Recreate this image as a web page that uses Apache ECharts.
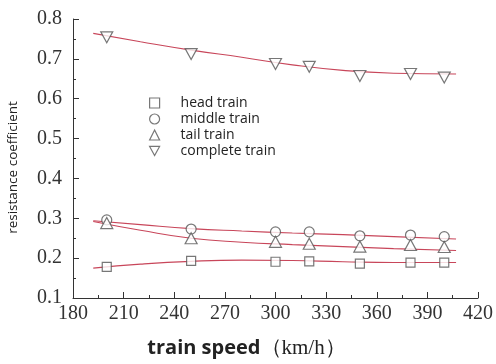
<!DOCTYPE html>
<html><head><meta charset="utf-8">
<script src="https://cdn.jsdelivr.net/npm/echarts@6/dist/echarts.min.js"></script>
<style>html,body{margin:0;padding:0;background:#fff}#c{width:496px;height:364px}</style>
</head><body><div id="c"></div>
<script>
const speeds = [200, 250, 300, 320, 350, 380, 400];
const headTrain = [0.178, 0.193, 0.191, 0.192, 0.186, 0.189, 0.189];
const middleTrain = [0.296, 0.273, 0.266, 0.266, 0.256, 0.258, 0.254];
const tailTrain = [0.288, 0.250, 0.241, 0.236, 0.229, 0.233, 0.228];
const completeTrain = [0.754, 0.712, 0.687, 0.680, 0.657, 0.662, 0.653];

const fitSpeeds = [192, 220, 250, 280, 310, 340, 370, 407];
const headFit = [0.175, 0.185, 0.192, 0.195, 0.194, 0.191, 0.189, 0.189];
const middleFit = [0.294, 0.284, 0.274, 0.268, 0.263, 0.259, 0.254, 0.248];
const tailFit = [0.292, 0.270, 0.250, 0.240, 0.234, 0.229, 0.224, 0.219];
const completeFit = [0.764, 0.743, 0.722, 0.704, 0.685, 0.671, 0.664, 0.662];

const names = ['head train', 'middle train', 'tail train', 'complete train'];
const xTicks = [180, 420, 30];
const yTicks = [0.1, 0.8, 0.1];

const pair = (xs, ys) => xs.map((x, i) => [x, ys[i]]);
const mk = { color: '#fff', borderColor: '#555', borderWidth: 1.2 };
const fitColor = '#c8465a';

function scatter(name, vals, symbol, size, rot) {
  return { name, type: 'scatter', data: pair(speeds, vals), symbol, symbolSize: size,
    symbolRotate: rot || 0, itemStyle: mk, z: 3 };
}
function fit(vals) {
  return { type: 'line', data: pair(fitSpeeds, vals), smooth: true, showSymbol: false,
    symbol: 'none', lineStyle: { color: fitColor, width: 1.1 }, z: 2, silent: true };
}

const chart = echarts.init(document.getElementById('c'));
chart.setOption({
  animation: false,
  grid: { left: 73, right: 18, top: 19, bottom: 66, containLabel: false, outerBoundsMode: 'none' },
  legend: {
    orient: 'vertical', left: 144, top: 91, itemGap: 2, itemWidth: 10, itemHeight: 10,
    itemStyle: { borderWidth: 1.2 },
    textStyle: { fontFamily: 'Open Sans', fontSize: 14, lineHeight: 14, color: '#222', padding: [0, 0, 0, 16] },
    data: [
      { name: names[0], icon: 'rect' },
      { name: names[1], icon: 'circle' },
      { name: names[2], icon: 'triangle' },
      { name: names[3], icon: 'path://M0,0 L12,0 L6,11 Z' }
    ]
  },
  xAxis: {
    type: 'value', min: xTicks[0], max: xTicks[1], interval: xTicks[2],
    axisLine: { lineStyle: { color: '#333', width: 1 } },
    axisTick: { inside: true, length: 6, lineStyle: { color: '#333' } },
    minorTick: { show: true, splitNumber: 2, length: 3, lineStyle: { color: '#333' } },
    splitLine: { show: false },
    axisLabel: { fontFamily: 'Liberation Serif', fontSize: 20, color: '#333', margin: 6 },
    name: '{a|train speed}{b|（km/h）}', nameLocation: 'middle', nameGap: 40,
    nameTextStyle: { padding: [0, 58, 0, 0], rich: {
      a: { fontFamily: 'Open Sans', fontWeight: 'bold', fontSize: 20, color: '#222' },
      b: { fontFamily: 'Liberation Serif', fontSize: 21, color: '#222' } } }
  },
  yAxis: {
    type: 'value', min: yTicks[0], max: yTicks[1], interval: yTicks[2],
    axisLine: { show: true, lineStyle: { color: '#333', width: 1 } },
    axisTick: { show: true, inside: true, length: 6, lineStyle: { color: '#333' } },
    minorTick: { show: true, splitNumber: 2, length: 3, lineStyle: { color: '#333' } },
    splitLine: { show: false },
    axisLabel: { fontFamily: 'Liberation Serif', fontSize: 20, color: '#333', margin: 11,
      formatter: v => v.toFixed(1) },
    name: 'resistance coefficient', nameLocation: 'middle', nameGap: 53,
    nameTextStyle: { fontFamily: 'Open Sans', fontSize: 13.5, color: '#222', padding: [0, 18, 0, 0] }
  },
  series: [
    fit(headFit), fit(middleFit), fit(tailFit), fit(completeFit),
    scatter(names[0], headTrain, 'rect', 9),
    scatter(names[1], middleTrain, 'circle', 10),
    scatter(names[2], tailTrain, 'triangle', [12, 11]),
    scatter(names[3], completeTrain, 'triangle', [12, 11], 180)
  ]
});
</script></body></html>
